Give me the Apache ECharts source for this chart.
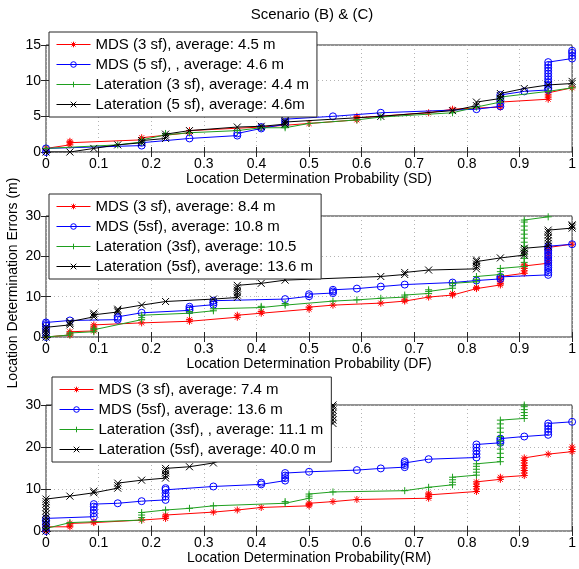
<!DOCTYPE html>
<html>
<head>
<meta charset="utf-8">
<script src="https://cdn.jsdelivr.net/npm/echarts@6.0.0/dist/echarts.min.js"></script>
<style>
  html, body { margin: 0; padding: 0; background: #fff; }
  #chart { width: 579px; height: 569px; }
</style>
</head>
<body>
<div id="chart"></div>
<script>
// x values are step indices k on the 1/22 probability grid, y = error in metres
const STEPS = 22;

const probTicks = ['0', '0.1', '0.2', '0.3', '0.4', '0.5', '0.6', '0.7', '0.8', '0.9', '1'];

const sdNames = ['MDS (3 sf), average: 4.5 m', 'MDS (5 sf), , average: 4.6 m',
  'Lateration (3 sf), average: 4.4 m', 'Lateration (5 sf), average: 4.6m'];
const dfNames = ['MDS (3 sf), average: 8.4 m', 'MDS (5sf), average: 10.8 m',
  'Lateration (3sf), average: 10.5', 'Lateration (5sf), average: 13.6 m'];
const rmNames = ['MDS (3 sf), average: 7.4 m', 'MDS (5sf), average: 13.6 m',
  'Lateration (3sf), , average: 11.1 m', 'Lateration (5sf), average: 40.0 m'];

// Scenario SD
const sdMds3 = [[0,0.5],[1,1.0],[1,1.3],[1,1.5],[4,1.7],[4,2.0],[6,2.7],[6,3.0],[9,3.5],[11,4.0],
  [13,4.5],[13,4.8],[13,5.0],[16,5.5],[17,6.0],[19,6.3],[19,6.6],[19,7.0],[21,7.4],[21,7.7],
  [21,8.0],[21,8.3],[22,9.0]];
const sdMds5 = [[0,0.0],[0,0.5],[4,0.9],[4,1.3],[6,1.9],[8,2.3],[8,2.6],[9,3.3],[9,3.5],[10,3.9],
  [10,4.2],[10,4.6],[12,5.0],[14,5.5],[18,6.0],[19,6.4],[19,6.8],[19,7.2],[19,7.6],[19,8.0],
  [20,8.5],[21,8.7],[21,9.0],[21,9.4],[21,9.8],[21,10.2],[21,10.6],[21,11.0],[21,11.4],[21,11.8],
  [21,12.2],[21,12.6],[22,13.1],[22,13.5],[22,13.9],[22,14.2]];
const sdLat3 = [[0,0.5],[3,1.0],[4,1.4],[4,1.7],[5,2.4],[5,2.6],[6,2.7],[8,3.0],[9,3.4],[10,3.4],
  [10,3.6],[11,4.0],[13,4.5],[14,4.9],[17,5.5],[18,6.3],[19,7.0],[19,7.4],[19,7.7],[21,8.5],[22,9.0]];
const sdLat5 = [[0,0.0],[1,0.0],[2,0.5],[3,1.0],[4,1.3],[4,1.6],[5,1.9],[5,2.2],[5,2.5],[6,3.0],
  [8,3.5],[9,3.6],[10,3.9],[10,4.2],[10,4.4],[14,5.0],[17,5.8],[18,6.5],[18,7.0],[19,7.5],
  [19,7.9],[19,8.2],[20,8.9],[21,9.4],[22,9.6],[22,9.9]];

// Scenario DF
const dfMds3 = [[0,0.0],[1,0.5],[1,0.9],[1,1.3],[2,1.5],[2,2.0],[2,2.5],[2,3.0],[4,3.5],[6,3.9],
  [6,4.3],[8,4.9],[8,5.4],[9,5.9],[9,6.3],[11,6.9],[11,7.4],[12,7.9],[14,8.4],[15,8.9],[15,9.2],
  [16,9.9],[17,10.4],[17,10.8],[18,12.0],[18,12.3],[19,12.9],[19,13.3],[19,13.7],[19,14.3],
  [19,15.0],[20,15.8],[20,16.4],[20,17.0],[20,17.6],[20,17.9],[21,18.3],[21,19.0],[21,19.8],
  [21,20.6],[21,21.4],[21,22.2],[22,23.0]];
const dfMds5 = [[0,0.0],[0,1.0],[0,2.0],[0,2.8],[0,3.2],[0,3.6],[1,4.1],[3,4.3],[3,4.7],[3,5.0],
  [4,6.0],[6,6.6],[6,7.0],[6,7.5],[7,8.0],[7,8.5],[7,9.0],[10,9.4],[11,10.1],[11,10.6],[12,10.9],
  [12,11.3],[12,11.7],[13,12.0],[14,12.5],[15,13.0],[17,13.5],[18,14.0],[19,14.4],[19,14.9],
  [21,15.4],[21,16.0],[21,16.6],[21,17.2],[21,17.8],[21,18.4],[21,19.0],[21,19.6],[21,20.2],
  [21,20.8],[21,21.4],[21,22.0],[21,22.5],[22,23.0]];
const dfLat3 = [[0,0.0],[1,0.5],[1,1.0],[2,1.3],[2,1.8],[2,2.2],[4,4.3],[4,4.8],[4,5.4],[6,5.9],
  [6,6.3],[7,6.5],[7,7.0],[9,7.3],[9,7.6],[10,7.9],[10,8.3],[12,8.9],[13,9.2],[14,9.6],[15,9.9],
  [15,10.4],[16,10.8],[16,11.3],[16,11.7],[17,12.1],[17,12.7],[17,13.3],[18,13.7],[18,14.3],
  [18,15.0],[19,15.5],[19,16.2],[19,17.0],[20,17.5],[20,18.5],[20,19.5],[20,20.5],[20,21.5],
  [20,22.5],[20,23.5],[20,24.5],[20,25.5],[20,26.5],[20,27.5],[20,28.5],[20,29.0],[21,29.8]];
const dfLat5 = [[0,0.0],[0,0.6],[0,1.2],[0,1.8],[0,2.4],[1,3.0],[1,3.4],[1,3.8],[2,5.0],[2,5.5],
  [2,5.9],[3,6.2],[3,6.6],[3,6.9],[4,7.9],[5,8.8],[7,9.4],[8,9.8],[8,10.4],[8,11.0],[8,11.6],
  [8,12.2],[8,12.8],[9,13.3],[10,14.1],[14,15.0],[15,15.5],[15,16.0],[16,16.6],[18,16.9],
  [18,17.5],[18,18.1],[18,18.7],[18,19.1],[19,19.6],[20,20.3],[20,20.8],[20,21.4],[20,22.0],
  [21,22.5],[21,23.2],[21,23.9],[21,24.6],[21,25.3],[21,26.0],[21,26.5],[22,27.0],[22,27.5],[22,27.8]];

// Scenario RM
const rmMds3 = [[0,0.0],[0,0.5],[0,1.0],[1,1.0],[1,1.4],[1,1.8],[2,2.0],[2,2.2],[4,2.6],[5,3.0],
  [5,3.4],[5,3.8],[7,4.5],[8,5.0],[9,5.6],[11,6.0],[11,6.3],[11,6.6],[12,7.0],[13,7.5],[16,7.8],
  [16,8.2],[16,8.6],[16,9.0],[18,9.4],[18,10.0],[18,10.6],[18,11.2],[18,11.7],[19,12.3],[19,12.8],
  [20,13.2],[20,13.8],[20,14.4],[20,15.0],[20,15.6],[20,16.2],[20,16.8],[20,17.4],[21,18.3],
  [22,18.9],[22,19.4],[22,20.0]];
const rmMds5 = [[0,0.0],[0,0.8],[0,1.6],[0,2.4],[0,3.0],[2,3.4],[2,4.2],[2,5.0],[2,5.8],[2,6.4],
  [3,6.6],[4,7.1],[5,7.4],[5,8.2],[5,9.0],[5,9.8],[5,10.2],[7,10.6],[9,11.1],[9,11.5],[10,12.0],
  [10,12.6],[10,13.2],[10,13.8],[11,14.1],[13,14.5],[14,14.9],[15,15.2],[15,15.7],[15,16.2],
  [15,16.6],[16,17.1],[18,17.5],[18,18.3],[18,19.1],[18,19.9],[18,20.6],[19,21.0],[19,21.5],
  [19,22.0],[20,22.5],[21,22.9],[21,23.6],[21,24.3],[21,25.0],[21,25.6],[22,26.0]];
const rmLat3 = [[0,0.6],[1,2.0],[4,2.6],[4,3.2],[4,3.8],[4,4.4],[5,5.0],[6,5.4],[7,6.0],[10,6.6],
  [10,7.0],[11,7.8],[11,8.3],[11,8.8],[12,9.3],[15,9.6],[16,10.4],[17,11.0],[17,11.6],[17,12.2],
  [17,12.8],[18,13.3],[18,14.0],[18,14.7],[18,15.4],[18,16.0],[19,16.5],[19,17.5],[19,18.5],
  [19,19.5],[19,20.5],[19,21.5],[19,22.5],[19,23.5],[19,24.5],[19,25.5],[19,26.4],[20,26.8],
  [20,27.5],[20,28.2],[20,28.9],[20,29.6],[20,30.0]];
const rmLat5 = [[0,0.0],[0,0.8],[0,1.6],[0,2.4],[0,3.2],[0,4.0],[0,4.8],[0,5.6],[0,6.4],[0,7.0],
  [0,7.6],[1,8.3],[2,9.1],[2,9.5],[3,10.2],[3,10.8],[3,11.4],[4,12.1],[5,12.6],[5,13.2],[5,13.8],
  [5,14.4],[5,14.9],[6,15.3],[7,16.2],[12,25.6],[12,26.4],[12,27.2],[12,28.0],[12,28.8],
  [12,29.6],[12,30.0]];

const FONT = '"Liberation Sans", Arial, Helvetica, sans-serif';
const colors = ['#ff0000', '#0000ff', '#1f9f1f', '#000000'];
const symbols = [
  'path://M0,-1L0,1M-1,0L1,0M-0.7,-0.7L0.7,0.7M-0.7,0.7L0.7,-0.7',
  'circle',
  'path://M0,-1L0,1M-1,0L1,0',
  'path://M-1,-1L1,1M-1,1L1,-1'
];

const panels = [
  {names: sdNames, data: [sdMds3, sdMds5, sdLat3, sdLat5], title: 'Location Determination Probability (SD)',
    top: 45, height: 107, ymax: 15, yint: 5, nameGap: 14, legendTop: 32, legendLeft: 49},
  {names: dfNames, data: [dfMds3, dfMds5, dfLat3, dfLat5], title: 'Location Determination Probability (DF)',
    top: 216, height: 121, ymax: 30, yint: 10, nameGap: 19, legendTop: 194, legendLeft: 49},
  {names: rmNames, data: [rmMds3, rmMds5, rmLat3, rmLat5], title: 'Location Determination Probability(RM)',
    top: 405, height: 126, ymax: 30, yint: 10, nameGap: 19, legendTop: 377, legendLeft: 52}
];

const grids = [], xAxes = [], yAxes = [], series = [], legends = [];

const tickStyle = {show: true, inside: true, length: 5, lineStyle: {color: '#262626', width: 1}};
const gridLine = {show: true, lineStyle: {color: '#b4b4b4', type: [1, 3], width: 1}};
const labelStyle = {color: '#000', fontSize: 14, fontFamily: FONT};

panels.forEach((p, i) => {
  grids.push({left: 46, top: p.top, width: 530, height: p.height,
    show: true, borderColor: '#262626', borderWidth: 1, backgroundColor: '#fff'});

  xAxes.push({
    gridIndex: i, type: 'value', position: 'bottom', min: 0, max: 1, interval: 0.1,
    axisLine: {show: false}, axisTick: tickStyle, splitLine: gridLine,
    axisLabel: Object.assign({margin: 5, formatter: (v) => probTicks[Math.round(v * 10)]}, labelStyle),
    name: p.title, nameLocation: 'middle', nameGap: p.nameGap,
    nameTextStyle: {color: '#000', fontSize: 14, fontFamily: FONT}
  });
  xAxes.push({
    gridIndex: i, type: 'value', position: 'top', min: 0, max: 1, interval: 0.1,
    axisLine: {show: false}, axisTick: tickStyle, axisLabel: {show: false}, splitLine: {show: false}
  });
  yAxes.push({
    gridIndex: i, type: 'value', position: 'left', min: 0, max: p.ymax, interval: p.yint,
    axisLine: {show: false}, axisTick: tickStyle, splitLine: gridLine,
    axisLabel: Object.assign({margin: 5}, labelStyle)
  });
  yAxes.push({
    gridIndex: i, type: 'value', position: 'right', min: 0, max: p.ymax, interval: p.yint,
    axisLine: {show: false}, axisTick: tickStyle, axisLabel: {show: false}, splitLine: {show: false}
  });

  p.data.forEach((pts, j) => {
    series.push({
      name: p.names[j], type: 'line',
      xAxisIndex: 2 * i, yAxisIndex: 2 * i,
      data: pts.map(([k, v]) => [k / STEPS, v]),
      symbol: symbols[j], symbolSize: 7, showSymbol: true,
      lineStyle: {color: colors[j], width: 1},
      itemStyle: {color: 'rgba(0,0,0,0)', borderColor: colors[j], borderWidth: 1},
      emphasis: {disabled: true},
      clip: true, z: 2 + j
    });
  });

  legends.push({
    data: p.names.map((n, j) => ({
      name: n,
      itemStyle: {color: 'rgba(0,0,0,0)', borderColor: colors[j], borderWidth: 1},
      lineStyle: {color: colors[j], width: 1}
    })),
    orient: 'vertical', left: p.legendLeft, top: p.legendTop,
    backgroundColor: '#fff', borderColor: '#262626', borderWidth: 1,
    padding: [5, 8, 5, 7], itemGap: 5, itemWidth: 34, itemHeight: 7,
    selectedMode: false, z: 10,
    textStyle: {color: '#000', fontSize: 15, fontFamily: FONT}
  });
});

const chart = echarts.init(document.getElementById('chart'), null, {renderer: 'canvas'});
chart.setOption({
  animation: false,
  backgroundColor: '#fff',
  grid: grids,
  xAxis: xAxes,
  yAxis: yAxes,
  legend: legends,
  series: series,
  graphic: [
    {type: 'text', x: 312, y: 15, style: {text: 'Scenario (B) & (C)', textAlign: 'center',
      textVerticalAlign: 'middle', fill: '#000', font: '15px ' + FONT}},
    {type: 'text', x: 13, y: 283, rotation: Math.PI / 2, style: {text: 'Location Determination Errors (m)',
      textAlign: 'center', textVerticalAlign: 'middle', fill: '#000', font: '14px ' + FONT}}
  ]
});
</script>
</body>
</html>
